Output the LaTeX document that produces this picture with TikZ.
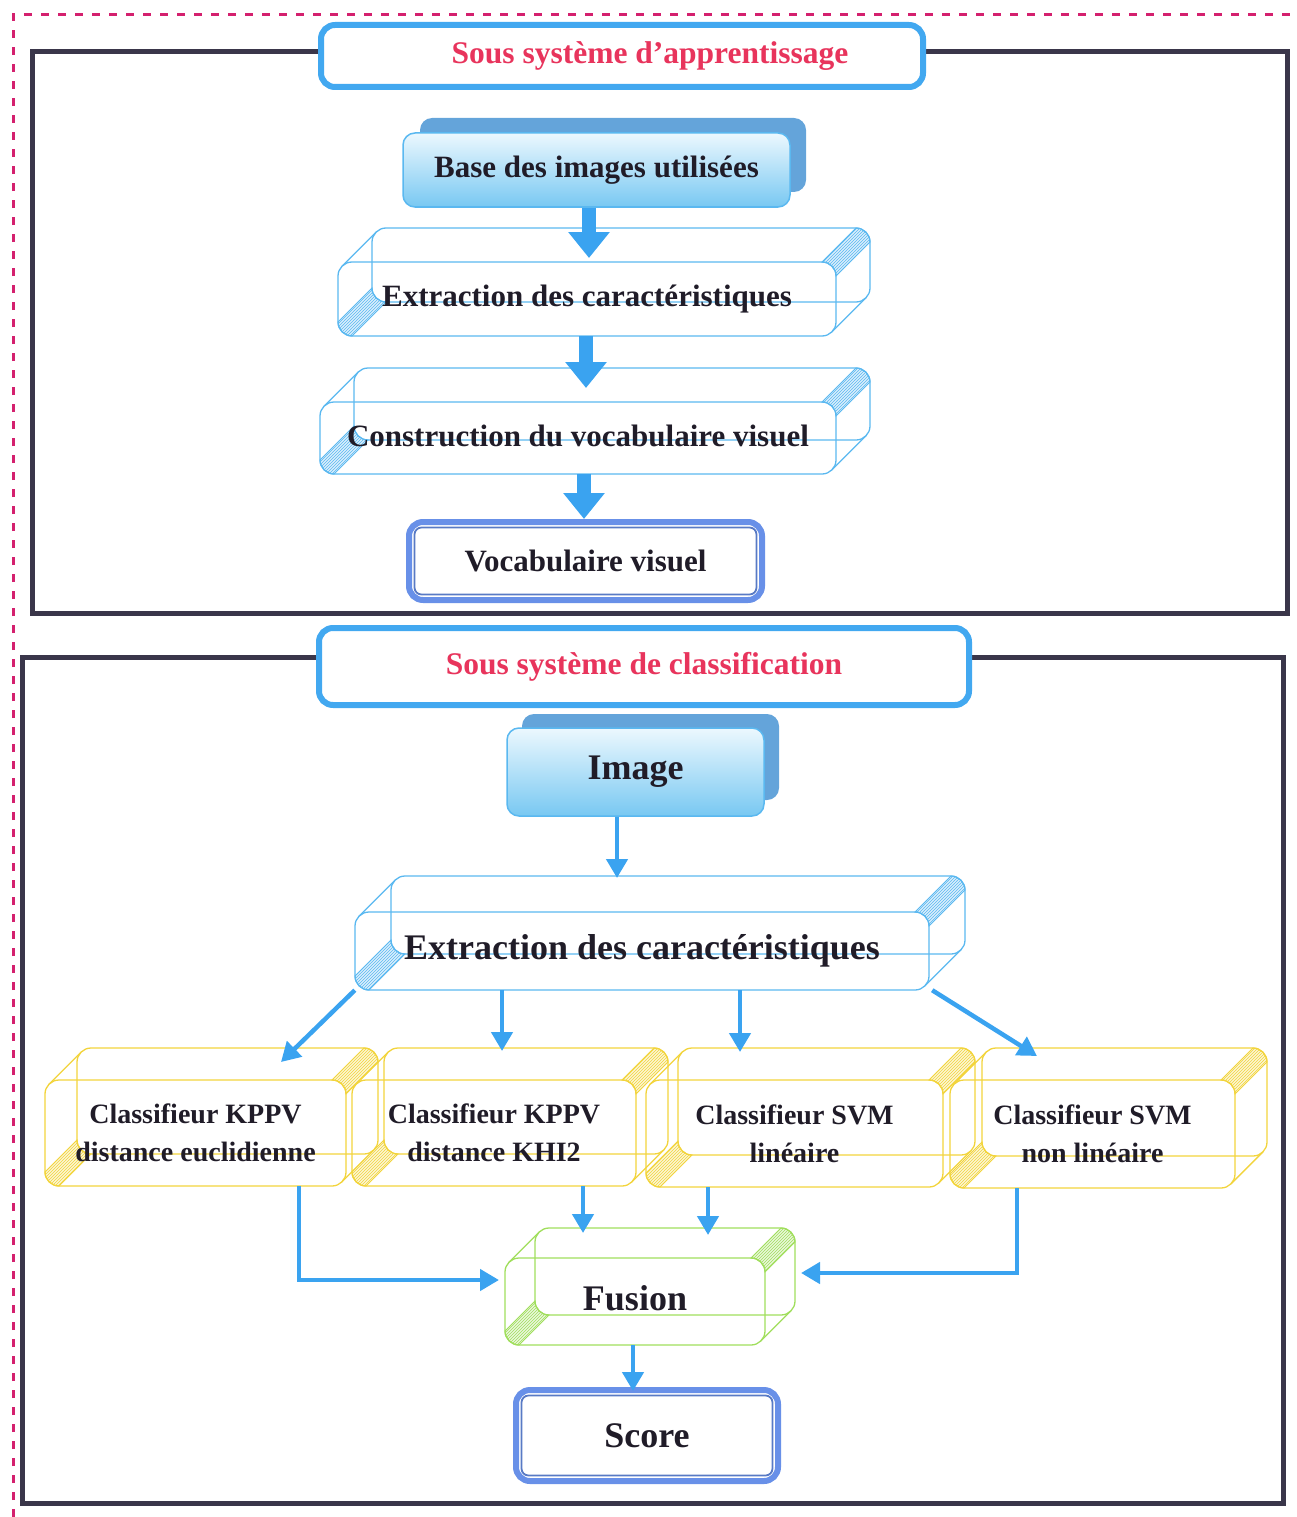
\documentclass[tikz,border=0pt]{standalone}
\usepackage{fontspec}
\setmainfont{Liberation Serif}
\usetikzlibrary{arrows.meta,calc,patterns}

\definecolor{framedark}{RGB}{58,54,74}
\definecolor{dashpink}{RGB}{212,32,110}
\definecolor{titlered}{RGB}{232,52,92}
\definecolor{lineblue}{RGB}{66,168,240}
\definecolor{arrowblue}{RGB}{58,163,240}
\definecolor{boxblue}{RGB}{90,184,240}
\definecolor{shadowblue}{RGB}{100,164,218}
\definecolor{gradlow}{RGB}{120,200,242}
\definecolor{gradhigh}{RGB}{236,248,254}
\definecolor{boxyellow}{RGB}{242,212,60}
\definecolor{boxgreen}{RGB}{160,222,92}
\definecolor{ringblue}{RGB}{104,144,232}
\definecolor{inkdark}{RGB}{32,28,40}

% Wire-frame bevelled box: front face (#2,#3)-(#4,#5), depth #6, colour #7,
% text style #8, text #9; the node #1 covers the front face.
\newcommand\bevelbox[9]{%
  \pgfmathsetmacro\bxa{#2}\pgfmathsetmacro\bya{#3}%
  \pgfmathsetmacro\bxb{#4}\pgfmathsetmacro\byb{#5}%
  \pgfmathsetmacro\bXa{#2+#6}\pgfmathsetmacro\bYa{#3-#6}%
  \pgfmathsetmacro\bXb{#4+#6}\pgfmathsetmacro\bYb{#5-#6}%
  \pgfmathsetmacro\bxw{#4-#2}\pgfmathsetmacro\byh{#5-#3}%
  \def\br{14}\def\bk{7.73}\def\bt{4.1}%
  % hatched bevel at the upper right corner
  \draw[#7, line width=1pt, fill=#7!22, postaction={pattern=north east lines, pattern color=#7}]
    ({\bxb-\br},\bya) .. controls ({\bxb-\br+\bk},\bya) and (\bxb,{\bya+\br-\bk}) .. (\bxb,{\bya+\br})
    -- (\bXb,{\bYa+\br}) .. controls (\bXb,{\bYa+\br-\bk}) and ({\bXb-\br+\bk},\bYa) .. ({\bXb-\br},\bYa) -- cycle;
  % hatched bevel at the lower left corner
  \draw[#7, line width=1pt, fill=#7!22, postaction={pattern=north east lines, pattern color=#7}]
    (\bxa,{\byb-\br}) .. controls (\bxa,{\byb-\br+\bk}) and ({\bxa+\br-\bk},\byb) .. ({\bxa+\br},\byb)
    -- ({\bXa+\br},\bYb) .. controls ({\bXa+\br-\bk},\bYb) and (\bXa,{\bYb-\br+\bk}) .. (\bXa,{\bYb-\br}) -- cycle;
  % back and front faces
  \draw[#7, line width=1.3pt, rounded corners=14pt] (\bXa,\bYa) rectangle (\bXb,\bYb);
  \draw[#7, line width=1.3pt, rounded corners=14pt] (\bxa,\bya) rectangle (\bxb,\byb);
  % silhouette edges
  \draw[#7, line width=1.3pt] ({\bxa+\bt},{\bya+\bt}) -- ({\bXa+\bt},{\bYa+\bt});
  \draw[#7, line width=1.3pt] ({\bxb-\bt},{\byb-\bt}) -- ({\bXb-\bt},{\bYb-\bt});
  \node[facetext, #8, minimum width=\bxw pt, minimum height=\byh pt]
    (#1) at ({(\bxa+\bxb)/2},{(\bya+\byb)/2}) {#9};
}

\begin{document}
\begin{tikzpicture}[x=1pt, y=-1pt,
  frame/.style={draw=framedark, line width=5pt},
  titlebox/.style={draw=lineblue, line width=6pt, rounded corners=14pt, fill=white,
    text=titlered, inner sep=0pt, font=\fontsize{31.5}{36}\selectfont\bfseries},
  gradbox/.style={draw=boxblue, line width=1.5pt, rounded corners=12pt,
    top color=gradhigh, bottom color=gradlow, text=inkdark, inner sep=0pt},
  ringbox/.style={draw=ringblue, line width=6pt, rounded corners=14pt, fill=white,
    text=inkdark, inner sep=0pt},
  ringinner/.style={draw=ringblue!85!black, line width=1.8pt, rounded corners=7pt},
  facetext/.style={text=inkdark, inner sep=0pt, align=center},
  txtA/.style={font=\fontsize{31}{36}\selectfont\bfseries},
  txtB/.style={font=\fontsize{36}{40}\selectfont\bfseries},
  txtC/.style={font=\fontsize{28}{38}\selectfont\bfseries},
  blockarrow/.style={draw=arrowblue, line width=14pt, -{Triangle[width=40pt,length=26pt]}},
  thinarrow/.style={draw=arrowblue, line width=4.5pt, -{Triangle[width=21pt,length=19pt]}},
]
\useasboundingbox (0,0) rectangle (1297,1517);

% outer dashed border and the two sub-system frames
\draw[dashpink, line width=3pt, dash pattern=on 8pt off 9pt] (13,1517) -- (13,15) -- (1297,15);
\draw[frame] (32,52) rectangle (1287,613);
\draw[frame] (22,657) rectangle (1283,1503);

% ---------- learning sub-system ----------
\node[titlebox, minimum width=602pt, minimum height=62pt] (title1) at (622,56)
  {\hspace{56pt}Sous système d’apprentissage};

\fill[shadowblue, rounded corners=12pt] (420,118) rectangle (806,192);
\node[gradbox, txtA, minimum width=387pt, minimum height=74pt] (base) at (596.5,170)
  {\raisebox{3pt}{Base des images utilisées}};

\bevelbox{extractA}{338}{262}{836}{336}{34}{boxblue}{txtA}{\raisebox{3pt}{Extraction des caractéristiques}}
\bevelbox{construct}{320}{402}{836}{474}{34}{boxblue}{txtA}{\raisebox{5pt}{Construction du vocabulaire visuel}}

\node[ringbox, txtA, minimum width=353pt, minimum height=78pt] (vocab) at (585.5,561)
  {Vocabulaire visuel};
\draw[ringinner]
  ($(vocab.north west)+(8.5,8.5)$) rectangle ($(vocab.south east)+(-8.5,-8.5)$);

\coordinate (t1) at (589,258);
\coordinate (t2) at (586,388);
\coordinate (t3) at (584,519);
\draw[blockarrow] (base.south -| t1) -- (t1);
\draw[blockarrow] (extractA.south -| t2) -- (t2);
\draw[blockarrow] (construct.south -| t3) -- (t3);

% ---------- classification sub-system ----------
\node[titlebox, minimum width=650pt, minimum height=77pt] (title2) at (644,666.5)
  {\raisebox{7pt}{Sous système de classification}};

\fill[shadowblue, rounded corners=12pt] (522,714) rectangle (779,800);
\node[gradbox, txtB, minimum width=257pt, minimum height=88pt] (image) at (635.5,772)
  {\raisebox{5pt}{Image}};

\bevelbox{extractB}{355}{912}{929}{990}{36}{boxblue}{txtB}{\raisebox{3pt}{Extraction des caractéristiques}}

\bevelbox{knnE}{45}{1080}{346}{1186}{32}{boxyellow}{txtC}{Classifieur KPPV\\distance euclidienne}
\bevelbox{knnK}{352}{1080}{636}{1186}{32}{boxyellow}{txtC}{Classifieur KPPV\\distance KHI2}
\bevelbox{svmL}{646}{1080}{943}{1187}{32}{boxyellow}{txtC}{Classifieur SVM\\linéaire}
\bevelbox{svmN}{950}{1080}{1235}{1188}{32}{boxyellow}{txtC}{Classifieur SVM\\non linéaire}

\bevelbox{fusion}{505}{1258}{765}{1345}{30}{boxgreen}{txtB}{\raisebox{7pt}{Fusion}}

\node[ringbox, txtB, minimum width=262pt, minimum height=91pt] (score) at (647,1435.5)
  {Score};
\draw[ringinner]
  ($(score.north west)+(8.5,8.5)$) rectangle ($(score.south east)+(-8.5,-8.5)$);

% connectors
\coordinate (t4) at (617,878);
\coordinate (t5) at (281,1062);
\coordinate (t6) at (502,1051);
\coordinate (t7) at (740,1052);
\coordinate (t8) at (1037,1056);
\coordinate (t9) at (583,1233);
\coordinate (t10) at (708,1235);
\coordinate (t11) at (499,1280);
\coordinate (t12) at (801,1273);
\coordinate (t13) at (633,1391);
\coordinate (k1x) at (299,0);
\coordinate (s2x) at (1017,0);

\draw[thinarrow] (image.south -| t4) -- (t4);
\draw[thinarrow] (extractB.south west) -- (t5);
\draw[thinarrow] (extractB.south -| t6) -- (t6);
\draw[thinarrow] (extractB.south -| t7) -- (t7);
\draw[thinarrow] ($(extractB.south east)+(3,0)$) -- (t8);
\draw[thinarrow] (knnK.south -| t9) -- (t9);
\draw[thinarrow] (svmL.south -| t10) -- (t10);
\draw[thinarrow] (knnE.south -| k1x) |- (t11);
\draw[thinarrow] (svmN.south -| s2x) |- (t12);
\draw[thinarrow] (fusion.south -| t13) -- (t13);
\end{tikzpicture}
\end{document}
